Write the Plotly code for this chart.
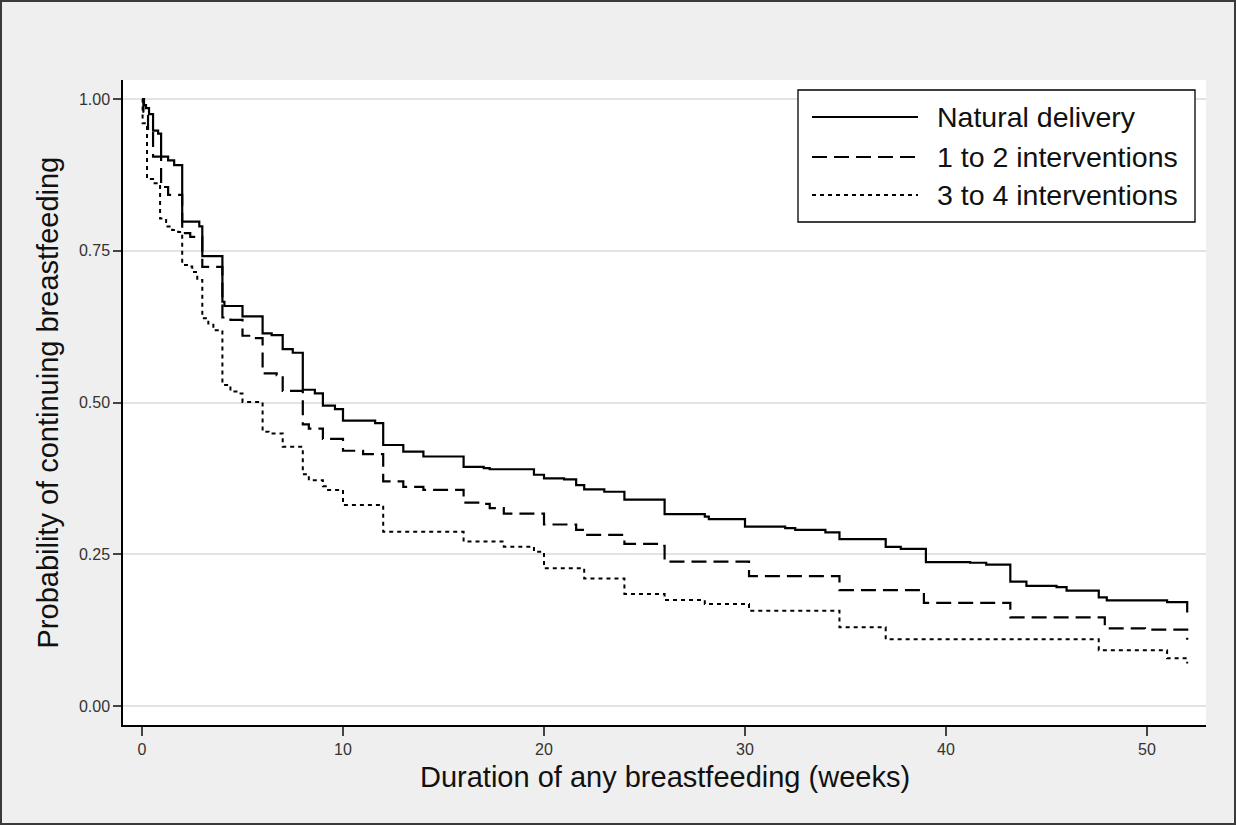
import plotly.graph_objects as go

# ---- data ----
natural_t = [0, 0.1, 0.2, 0.35, 0.55, 0.8, 0.95, 1.3, 1.6, 2.0, 2.85, 3.0, 4.0, 4.1, 5.0, 6.0, 6.45,
             7.0, 7.5, 8.0, 8.6, 9.0, 9.6, 10.0, 11.6, 12.0, 13.0, 14.0, 16.0, 17.0, 17.3, 19.5, 20.0,
             21.0, 21.6, 22.0, 23.0, 24.0, 26.0, 28.0, 28.2, 30.0, 32.0, 32.5, 34.0, 34.7, 37.0,
             37.75, 39.0, 41.2, 42.0, 43.2, 44.0, 45.5, 46.0, 47.6, 48.0, 51.0, 52.0]
natural_s = [1.0, 0.99, 0.985, 0.975, 0.948, 0.943, 0.905, 0.899, 0.891, 0.798, 0.79, 0.741, 0.666,
             0.659, 0.642, 0.614, 0.611, 0.588, 0.582, 0.521, 0.515, 0.495, 0.489, 0.470, 0.466,
             0.430, 0.419, 0.411, 0.394, 0.392, 0.390, 0.381, 0.375, 0.3735, 0.364, 0.357, 0.353,
             0.340, 0.316, 0.312, 0.308, 0.2955, 0.293, 0.290, 0.286, 0.275, 0.262, 0.259, 0.237,
             0.236, 0.233, 0.205, 0.198, 0.196, 0.190, 0.179, 0.174, 0.171, 0.154]

one_two_t = [0, 0.07, 0.3, 0.55, 0.95, 1.3, 2.0, 2.4, 3.0, 4.0, 4.4, 5.0, 5.6, 6.0, 6.7, 7.0, 8.0,
             8.3, 9.0, 10.0, 11.0, 12.0, 13.0, 14.0, 16.0, 16.8, 17.3, 18.0, 20.0, 21.6, 22.0,
             24.0, 25.7, 26.0, 30.2, 34.7, 38.9, 43.2, 47.9, 49.9, 52.0]
one_two_s = [1.0, 0.979, 0.946, 0.905, 0.855, 0.842, 0.779, 0.773, 0.7235, 0.640, 0.636, 0.610,
             0.606, 0.548, 0.545, 0.519, 0.464, 0.457, 0.440, 0.4205, 0.415, 0.370, 0.361, 0.356,
             0.335, 0.333, 0.326, 0.317, 0.299, 0.290, 0.282, 0.267, 0.264, 0.238, 0.214, 0.191,
             0.170, 0.146, 0.128, 0.1257, 0.109]

three_four_t = [0, 0.03, 0.25, 0.55, 0.9, 1.2, 1.5, 1.8, 2.0, 2.3, 2.5, 2.75, 3.0, 3.3, 3.55, 4.0,
                4.4, 4.7, 5.0, 6.0, 6.3, 7.0, 8.0, 8.3, 9.0, 9.2, 10.0, 12.0, 16.0, 18.0, 19.5,
                20.0, 22.0, 24.0, 26.0, 28.0, 30.2, 34.7, 37.0, 47.6, 51.0, 52.0]
three_four_s = [1.0, 0.96, 0.868, 0.861, 0.803, 0.79, 0.784, 0.781, 0.7265, 0.724, 0.715, 0.702,
                0.639, 0.630, 0.619, 0.529, 0.518, 0.515, 0.501, 0.452, 0.449, 0.427, 0.382, 0.372,
                0.362, 0.356, 0.331, 0.287, 0.271, 0.2625, 0.254, 0.227, 0.210, 0.1845, 0.1746,
                0.168, 0.157, 0.1296, 0.1098, 0.092, 0.0785, 0.070]

series_names = ["Natural delivery", "1 to 2 interventions", "3 to 4 interventions"]
y_ticks = [0.0, 0.25, 0.5, 0.75, 1.0]
x_ticks = [0, 10, 20, 30, 40, 50]

# ---- styles ----
dashes = ["solid", "15px,7px", "4px,4px"]
widths = [2.2, 2.2, 2.0]
FONT = "Liberation Sans, Arial, sans-serif"

fig = go.Figure()
for name, t, s, d, w in zip(series_names,
                            [natural_t, one_two_t, three_four_t],
                            [natural_s, one_two_s, three_four_s], dashes, widths):
    fig.add_trace(go.Scatter(x=t, y=s, mode="lines", line_shape="hv", name=name,
                             line=dict(color="black", width=w, dash=d), showlegend=False))

# figure geometry (pixels)
W, H = 1236, 825
L, R, T, B = 123, 1206, 80, 725
pw, ph = R - L, B - T

def px(xp):
    return (xp - L) / pw

def py(yp):
    return (B - yp) / ph

shapes = []
# outer frame
shapes.append(dict(type="rect", xref="paper", yref="paper", x0=px(1), x1=px(W - 1),
                   y0=py(H - 1), y1=py(1), line=dict(color="#3a3a3a", width=2), layer="below"))
# legend box
shapes.append(dict(type="rect", xref="paper", yref="paper", x0=px(798), x1=px(1195),
                   y0=py(222), y1=py(90), line=dict(color="black", width=1.3),
                   fillcolor="white", layer="above"))
annotations = []
rows = [117, 157, 195]
for name, d, w, ry in zip(series_names, dashes, widths, rows):
    shapes.append(dict(type="line", xref="paper", yref="paper", x0=px(812), x1=px(918),
                       y0=py(ry), y1=py(ry), line=dict(color="black", width=w, dash=d),
                       layer="above"))
    annotations.append(dict(xref="paper", yref="paper", x=px(935), y=py(ry), text=name,
                            showarrow=False, xanchor="left", yanchor="middle",
                            font=dict(family=FONT, size=28.5, color="#111111")))

# axis titles
annotations.append(dict(xref="paper", yref="paper", x=0.5, y=py(777),
                        text="Duration of any breastfeeding (weeks)", showarrow=False,
                        xanchor="center", yanchor="middle",
                        font=dict(family=FONT, size=29, color="#111111")))
annotations.append(dict(xref="paper", yref="paper", x=px(47), y=0.5,
                        text="Probability of continuing breastfeeding", showarrow=False,
                        textangle=-90, xanchor="center", yanchor="middle",
                        font=dict(family=FONT, size=29, color="#111111")))

x0_px, wk_px = 142, 20.1
y0_px, unit_px = 706, 607
xr = [(L - x0_px) / wk_px, (R - x0_px) / wk_px]
yr = [(y0_px - B) / unit_px, (y0_px - T) / unit_px]

fig.update_layout(
    width=W, height=H,
    margin=dict(l=L, r=W - R, t=T, b=H - B, pad=0),
    paper_bgcolor="#efefef", plot_bgcolor="white",
    font=dict(family=FONT, color="#333333"),
    xaxis=dict(range=xr, tickvals=x_ticks, ticktext=[str(v) for v in x_ticks],
               showgrid=False, zeroline=False, showline=True, linecolor="black",
               linewidth=1.5, ticks="outside", ticklen=9, tickwidth=1.5, tickcolor="#444444",
               tickfont=dict(size=16, color="#333333", family=FONT)),
    yaxis=dict(range=yr, tickvals=y_ticks, tickformat=".2f",
               showgrid=True, gridcolor="#e3e3e3", gridwidth=2, zeroline=False,
               showline=True, linecolor="black", linewidth=1.5, ticks="outside", ticklen=8,
               tickwidth=1.5, tickcolor="#444444",
               tickfont=dict(size=16, color="#333333", family=FONT)),
    shapes=shapes, annotations=annotations,
)

fig.write_html("out.html", config={"displayModeBar": False},
               post_script="document.body.style.margin='0';document.body.style.overflow='hidden';")
